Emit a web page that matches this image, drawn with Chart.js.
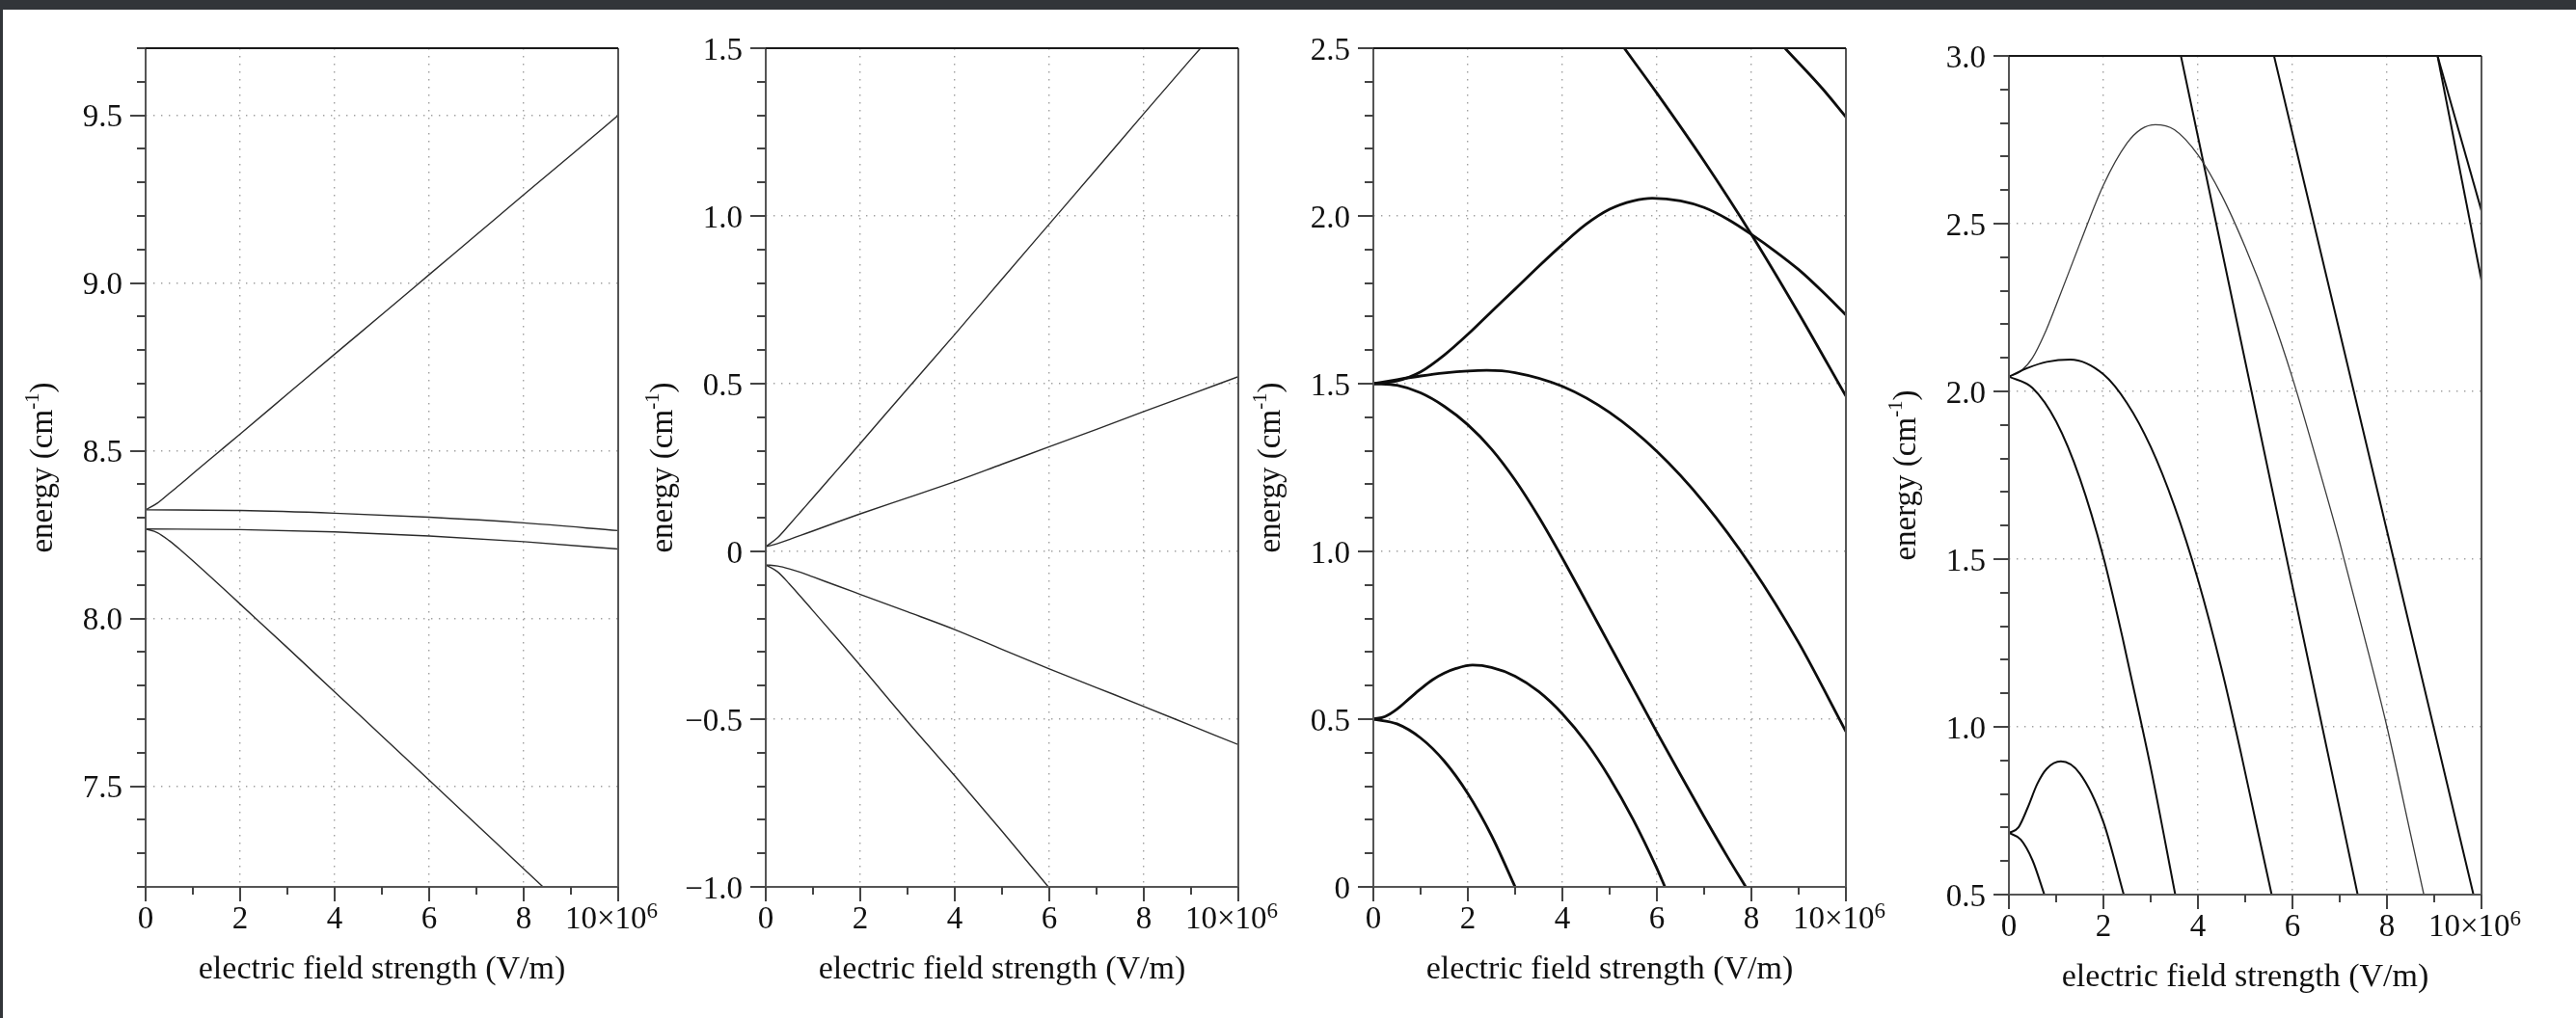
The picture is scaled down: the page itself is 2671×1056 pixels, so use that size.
<!DOCTYPE html>
<html>
<head>
<meta charset="utf-8">
<script src="https://cdn.jsdelivr.net/npm/chart.js@4.4.0/dist/chart.umd.min.js"></script>
<style>
  body { margin: 0; width: 2671px; height: 1056px; background: #fff; overflow: hidden; position: relative; }
  canvas { position: absolute; }
  .edge { position: absolute; background: #323539; z-index: 5; }
</style>
</head>
<body>
<div class="edge" style="left:0;top:0;width:2671px;height:10px"></div>
<div class="edge" style="left:0;top:0;width:3px;height:1056px"></div>
<canvas id="p1" width="700" height="1050"></canvas>
<canvas id="p2" width="700" height="1050"></canvas>
<canvas id="p3" width="700" height="1050"></canvas>
<canvas id="p4" width="700" height="1050"></canvas>
<script>
// field strength in units of 10^6 V/m
const fieldTicks = [0, 2, 4, 6, 8, 10];
const fieldMinor = [1, 3, 5, 7, 9];

// panel 1: levels near 8.3 cm-1
const p1Ticks = [7.5, 8.0, 8.5, 9.0, 9.5];
const p1Rise = [[0, 8.324], [0.25, 8.344], [0.5, 8.373], [0.75, 8.402], [1, 8.432], [1.5, 8.491], [2, 8.55], [3, 8.669], [4, 8.788], [5, 8.906], [6, 9.025], [7, 9.144], [8, 9.263], [9, 9.381], [10, 9.5]];
const p1FlatHi = [[0, 8.324], [2, 8.322], [4, 8.314], [6, 8.302], [8, 8.285], [10, 8.262]];
const p1FlatLo = [[0, 8.267], [2, 8.265], [4, 8.258], [6, 8.246], [8, 8.229], [10, 8.207]];
const p1Fall = [[0, 8.267], [0.25, 8.256], [0.5, 8.232], [0.75, 8.203], [1, 8.172], [1.5, 8.108], [2, 8.043], [3, 7.913], [4, 7.781], [5, 7.65], [6, 7.518], [7, 7.386], [8, 7.254], [8.41, 7.2]];

// panel 2: levels near 0
const p2Ticks = [-1.0, -0.5, 0, 0.5, 1.0, 1.5];
const p2Steep = [[0, 0.014], [0.25, 0.041], [0.5, 0.08], [0.75, 0.12], [1, 0.16], [1.5, 0.241], [2, 0.322], [3, 0.485], [4, 0.647], [5, 0.812], [6, 0.976], [7, 1.14], [8, 1.305], [9, 1.468], [9.2, 1.5]];
const p2Shallow = [[0, 0.014], [0.25, 0.0234], [0.5, 0.0358], [0.75, 0.0485], [1, 0.061], [1.5, 0.087], [2, 0.112], [3, 0.16], [4, 0.208], [5, 0.26], [6, 0.312], [7, 0.364], [8, 0.417], [9, 0.469], [10, 0.521]];
const p2ShallowLo = [[0, -0.04], [0.25, -0.0435], [0.5, -0.052], [0.75, -0.063], [1, -0.076], [1.5, -0.102], [2, -0.128], [3, -0.18], [4, -0.233], [5, -0.292], [6, -0.35], [7, -0.406], [8, -0.462], [9, -0.519], [10, -0.576]];
const p2SteepLo = [[0, -0.04], [0.25, -0.0606], [0.5, -0.097], [0.75, -0.1366], [1, -0.177], [1.5, -0.258], [2, -0.34], [3, -0.507], [4, -0.669], [5, -0.834], [5.98, -1.0]];

// panel 3: manifolds at 0.5 and 1.5
const p3Ticks = [0, 0.5, 1.0, 1.5, 2.0, 2.5];
const p3LowFall = [[0, 0.5], [0.5, 0.486], [1, 0.444], [1.5, 0.375], [2, 0.278], [2.5, 0.153], [3, 0]];
const p3LowHump = [[0, 0.5], [0.25, 0.508], [0.5, 0.53], [0.75, 0.56], [1, 0.59], [1.25, 0.617], [1.5, 0.637], [1.75, 0.651], [2.1, 0.661], [2.5, 0.654], [3, 0.628], [3.5, 0.582], [4, 0.516], [4.5, 0.431], [5, 0.325], [5.5, 0.2], [6, 0.055], [6.17, 0]];
const p3MidFall = [[0, 1.5], [0.5, 1.495], [1, 1.4725], [1.5, 1.4325], [2, 1.3775], [2.5, 1.305], [3, 1.2125], [3.5, 1.1025], [4, 0.98], [4.5, 0.851], [5, 0.721], [5.5, 0.591], [6, 0.461], [6.5, 0.334], [7, 0.209], [7.5, 0.088], [7.88, 0]];
const p3MidArc = [[0, 1.5], [0.5, 1.512], [1, 1.523], [1.5, 1.532], [2, 1.538], [2.4, 1.54], [3, 1.533], [4, 1.492], [5, 1.414], [6, 1.298], [7, 1.145], [8, 0.955], [9, 0.728], [10, 0.463]];
const p3HighHump = [[0, 1.5], [0.5, 1.508], [1, 1.535], [1.5, 1.585], [2, 1.647], [2.5, 1.715], [3, 1.782], [3.5, 1.85], [4, 1.915], [4.5, 1.975], [5, 2.02], [5.5, 2.045], [5.9, 2.053], [6.5, 2.045], [7, 2.025], [7.5, 1.99], [8, 1.945], [8.5, 1.895], [9, 1.84], [9.5, 1.775], [10, 1.705]];
const p3SteepA = [[5.31, 2.5], [6, 2.366], [7, 2.163], [8, 1.945], [9, 1.71], [10, 1.463]];
const p3SteepB = [[8.71, 2.5], [9.5, 2.38], [10, 2.295]];

// panel 4: manifolds at 0.68 and 2.04
const p4Ticks = [0.5, 1.0, 1.5, 2.0, 2.5, 3.0];
const p4LowFall = [[0, 0.684], [0.25, 0.664], [0.5, 0.602], [0.75, 0.5]];
const p4LowHump = [[0, 0.684], [0.2, 0.7], [0.4, 0.76], [0.6, 0.83], [0.8, 0.875], [1.1, 0.897], [1.5, 0.861], [2, 0.716], [2.43, 0.5]];
const p4MidFall = [[0, 2.044], [0.5, 2.01], [1, 1.91], [1.5, 1.741], [2, 1.506], [2.42, 1.256], [2.5, 1.204], [3, 0.879], [3.52, 0.5]];
const p4MidArc = [[0, 2.044], [0.4, 2.07], [0.8, 2.088], [1.3, 2.095], [2, 2.051], [2.5, 1.965], [3, 1.835], [3.5, 1.659], [4, 1.439], [4.5, 1.173], [4.91, 0.922], [5.2, 0.733], [5.56, 0.5]];
const p4HighHump = [[0, 2.044], [0.25, 2.06], [0.5, 2.1], [0.75, 2.17], [1, 2.257], [1.5, 2.44], [2, 2.615], [2.5, 2.74], [2.8, 2.782], [3.1, 2.795], [3.5, 2.78], [4, 2.705], [4.5, 2.585], [5, 2.43], [5.5, 2.25], [6, 2.04], [6.5, 1.8], [7, 1.55], [7.5, 1.28], [8, 1.0], [8.5, 0.68], [8.78, 0.5]];
const p4SteepA = [[3.64, 3.0], [5, 2.09], [6, 1.42], [7, 0.754], [7.38, 0.5]];
const p4SteepB = [[5.61, 3.0], [7, 2.177], [8, 1.584], [9, 0.992], [9.83, 0.5]];
const p4TopA = [[9.07, 3.0], [10, 2.538]];
const p4TopB = [[9.07, 3.0], [10, 2.331]];

const FONT = '"Liberation Serif", "Times New Roman", serif';
const PAD_LEFT = 150, PAD_TOP = 50, PLOT_W = 490, PLOT_H = 870;

const panels = [
  { id: 'p1', left: 151, top: 50, min: 7.2, max: 9.7, ticks: p1Ticks,
    series: [p1Rise, p1FlatHi, p1FlatLo, p1Fall], color: '#2b2b2b', width: 1.4 },
  { id: 'p2', left: 794, top: 50, min: -1.0, max: 1.5, ticks: p2Ticks,
    series: [p2Steep, p2Shallow, p2ShallowLo, p2SteepLo], color: '#2b2b2b', width: 1.4 },
  { id: 'p3', left: 1424, top: 50, min: 0, max: 2.5, ticks: p3Ticks,
    series: [p3LowFall, p3LowHump, p3MidFall, p3MidArc, p3HighHump, p3SteepA, p3SteepB], color: '#0d0d0d', width: 2.8 },
  { id: 'p4', left: 2083, top: 58, min: 0.5, max: 3.0, ticks: p4Ticks,
    series: [p4LowFall, p4LowHump, p4MidFall, p4MidArc, p4HighHump, p4SteepA, p4SteepB, p4TopA, p4TopB], color: '#0d0d0d', width: 2,
    thin: [p4HighHump] }
];

function fmtEnergy(v) {
  if (Math.abs(v) < 1e-9) return '0';
  return (v < 0 ? '\u2212' : '') + Math.abs(v).toFixed(1);
}

// frame, ticks, tick labels and axis titles
const framePlugin = {
  id: 'frame',
  afterDraw(chart, args, opts) {
    const { ctx, chartArea: a, scales: { x, y } } = chart;
    const p = opts.panel;
    ctx.save();
    ctx.lineCap = 'butt';

    // box
    ctx.strokeStyle = '#555';
    ctx.lineWidth = 2;
    ctx.beginPath();
    ctx.moveTo(a.left, a.top); ctx.lineTo(a.left, a.bottom); ctx.lineTo(a.right, a.bottom); ctx.lineTo(a.right, a.top);
    ctx.stroke();
    ctx.strokeStyle = '#1a1a1a';
    ctx.beginPath();
    ctx.moveTo(a.left, a.top); ctx.lineTo(a.right, a.top);
    ctx.stroke();

    // tick marks, major and minor
    ctx.strokeStyle = '#444';
    ctx.lineWidth = 2;
    ctx.beginPath();
    const k0 = Math.ceil(p.min * 10 - 1e-6), k1 = Math.floor(p.max * 10 + 1e-6);
    for (let k = k0; k <= k1; k++) {
      const v = k / 10;
      const major = p.ticks.some(t => Math.abs(t - v) < 1e-6);
      const py = Math.round(y.getPixelForValue(v));
      ctx.moveTo(a.left - (major ? 16 : 9), py); ctx.lineTo(a.left, py);
    }
    fieldTicks.forEach(v => { const px = x.getPixelForValue(v); ctx.moveTo(px, a.bottom); ctx.lineTo(px, a.bottom + 15); });
    fieldMinor.forEach(v => { const px = x.getPixelForValue(v); ctx.moveTo(px, a.bottom); ctx.lineTo(px, a.bottom + 8); });
    ctx.stroke();

    // tick labels
    ctx.fillStyle = '#111';
    ctx.font = '33px ' + FONT;
    ctx.textBaseline = 'alphabetic';
    ctx.textAlign = 'right';
    p.ticks.forEach(v => ctx.fillText(fmtEnergy(v), a.left - 24, y.getPixelForValue(v) + 11.5));
    fieldTicks.forEach(v => {
      const px = x.getPixelForValue(v);
      if (v === 10) {
        ctx.textAlign = 'left';
        ctx.fillText('10\u00d710', px - 55, a.bottom + 43);
        const w = ctx.measureText('10\u00d710').width;
        ctx.font = '23px ' + FONT;
        ctx.fillText('6', px - 55 + w, a.bottom + 32);
        ctx.font = '33px ' + FONT;
      } else {
        ctx.textAlign = 'center';
        ctx.fillText(String(v), px, a.bottom + 43);
      }
    });

    // x title
    ctx.font = '34px ' + FONT;
    ctx.textAlign = 'center';
    ctx.fillText('electric field strength (V/m)', (a.left + a.right) / 2, a.bottom + 95);

    // y title with superscript
    ctx.translate(a.left - 106, (a.top + a.bottom) / 2);
    ctx.rotate(-Math.PI / 2);
    ctx.textAlign = 'left';
    ctx.textBaseline = 'middle';
    const big = '33px ' + FONT, small = '21px ' + FONT;
    ctx.font = big; const w1 = ctx.measureText('energy (cm').width; const w3 = ctx.measureText(')').width;
    ctx.font = small; const w2 = ctx.measureText('-1').width;
    let cx = -(w1 + w2 + w3) / 2;
    ctx.font = big; ctx.fillText('energy (cm', cx, 0); cx += w1;
    ctx.font = small; ctx.fillText('-1', cx, -11); cx += w2;
    ctx.font = big; ctx.fillText(')', cx, 0);
    ctx.restore();
  }
};

panels.forEach(p => {
  const cv = document.getElementById(p.id);
  cv.style.left = (p.left - PAD_LEFT) + 'px';
  cv.style.top = (p.top - PAD_TOP) + 'px';

  const datasets = p.series.map(s => {
    const thin = p.thin && p.thin.includes(s);
    return {
      data: s.map(([x, y]) => ({ x, y })),
      showLine: true,
      borderColor: thin ? '#3a3a3a' : p.color,
      borderWidth: thin ? 1.3 : p.width,
      pointRadius: 0,
      cubicInterpolationMode: 'monotone',
      fill: false
    };
  });

  new Chart(cv, {
    type: 'scatter',
    data: { datasets },
    options: {
      responsive: false,
      animation: false,
      devicePixelRatio: 1,
      layout: { padding: { left: 0, top: PAD_TOP, right: 700 - PAD_LEFT - PLOT_W, bottom: 0 } },
      plugins: { legend: { display: false }, tooltip: { enabled: false }, frame: { panel: p } },
      scales: {
        x: {
          type: 'linear', min: 0, max: 10,
          afterBuildTicks: s => { s.ticks = fieldTicks.map(v => ({ value: v })); },
          afterFit: s => { s.height = 1050 - PAD_TOP - PLOT_H; },
          ticks: { display: false },
          grid: { color: '#a0a0a0', lineWidth: 1.4, drawTicks: false },
          border: { display: false, dash: [1.4, 6.6] }
        },
        y: {
          type: 'linear', min: p.min, max: p.max,
          afterBuildTicks: s => { s.ticks = p.ticks.map(v => ({ value: v })); },
          afterFit: s => { s.width = PAD_LEFT; },
          ticks: { display: false },
          grid: { color: '#a0a0a0', lineWidth: 1.4, drawTicks: false },
          border: { display: false, dash: [1.4, 6.6] }
        }
      }
    },
    plugins: [framePlugin]
  });
});
</script>
</body>
</html>
